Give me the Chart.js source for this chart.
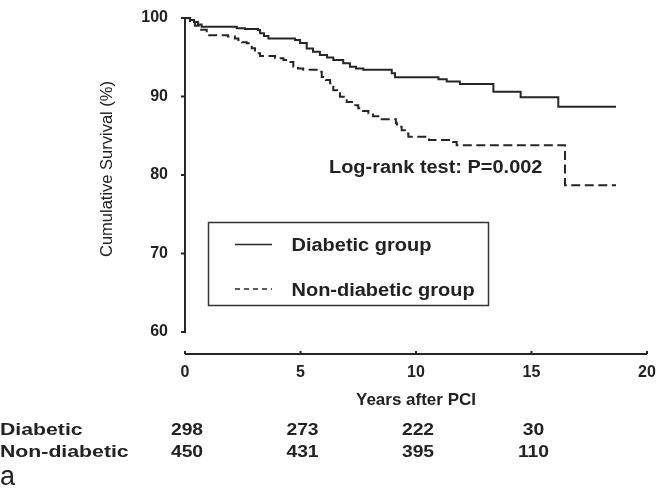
<!DOCTYPE html>
<html><head><meta charset="utf-8">
<script src="https://cdn.jsdelivr.net/npm/chart.js@4.4.1/dist/chart.umd.min.js"></script>
<style>html,body{margin:0;padding:0;background:#fff;}#wrap{width:660px;height:488px;}</style>
</head><body><div id="wrap"><canvas id="c" width="660" height="488"></canvas></div>
<script>
// ---- data ----
const seriesNames = ['Diabetic group', 'Non-diabetic group'];
const diabeticYears = [0, 0.22, 0.39, 0.56, 0.72, 2.24, 2.6, 3.16, 3.25, 3.42, 3.61, 4.76, 4.98, 5.27, 5.54, 5.84, 6.15, 6.42, 6.85, 7.14, 7.4, 7.72, 8.95, 9.09, 10.97, 11.33, 11.9, 13.35, 14.53, 16.16, 18.66];
const diabeticSurvival = [100, 99.75, 99.5, 99.17, 98.9, 98.7, 98.6, 98.47, 98.05, 97.7, 97.4, 97.2, 96.8, 96.1, 95.7, 95.3, 94.97, 94.65, 94.23, 93.8, 93.57, 93.4, 92.96, 92.45, 92.2, 91.9, 91.6, 90.6, 89.9, 88.7, 88.7];
const nonDiabeticYears = [0, 0.22, 0.43, 0.65, 0.94, 1.86, 2.16, 2.31, 2.47, 2.67, 2.89, 3.03, 3.25, 3.9, 4.26, 4.47, 4.69, 4.89, 5.12, 5.7, 5.92, 6.1, 6.28, 6.42, 6.58, 6.71, 7.0, 7.23, 7.5, 7.7, 7.94, 8.14, 8.37, 9.13, 9.18, 9.38, 9.52, 9.67, 10.56, 11.6, 11.76, 16.45, 18.66];
const nonDiabeticSurvival = [100, 99.5, 99.0, 98.5, 97.8, 97.64, 97.4, 97.2, 96.9, 96.78, 96.14, 95.5, 95.16, 94.87, 94.65, 94.4, 93.8, 93.57, 93.4, 93.16, 92.5, 92.1, 91.7, 90.8, 90.4, 89.97, 89.3, 88.9, 88.5, 88.15, 87.86, 87.5, 87.1, 86.6, 86.15, 85.7, 85.3, 84.88, 84.46, 84.2, 83.8, 78.7, 78.7];
const xTickValues = [0, 5, 10, 15, 20];
const yTickValues = [60, 70, 80, 90, 100];
const atRiskYears = [0, 5, 10, 15];
const atRiskRowLabels = ['Diabetic', 'Non-diabetic'];
const atRiskDiabetic = [298, 273, 222, 30];
const atRiskNonDiabetic = [450, 431, 395, 110];
const yAxisTitle = 'Cumulative Survival (%)';
const xAxisTitle = 'Years after PCI';
const testLabel = 'Log-rank test: P=0.002';
const panelLabel = 'a';

// ---- styling ----
const FONT = '"Liberation Sans", Arial, Helvetica, sans-serif';
const INK = '#222';
const LINE = '#262626';

function stretchText(ctx, s, x, y, font, sx, align) {
  ctx.save();
  ctx.font = font;
  ctx.fillStyle = INK;
  ctx.textAlign = align || 'left';
  ctx.textBaseline = 'alphabetic';
  ctx.translate(x, y);
  ctx.scale(sx, 1);
  ctx.fillText(s, 0, 0);
  ctx.restore();
}

function zeroPad(s) { s.paddingTop = 0; s.paddingBottom = 0; s.paddingLeft = 0; s.paddingRight = 0; }

const decor = {
  id: 'decor',
  beforeDraw(chart) {
    const ctx = chart.ctx;
    ctx.save(); ctx.fillStyle = '#fff'; ctx.fillRect(0, 0, chart.width, chart.height); ctx.restore();
  },
  afterDraw(chart) {
    const ctx = chart.ctx;
    const xs = chart.scales.x, ys = chart.scales.y;
    ctx.save();
    ctx.strokeStyle = LINE; ctx.lineWidth = 2; ctx.lineCap = 'butt';
    const x0 = xs.getPixelForValue(xTickValues[0]);
    const yTop = ys.getPixelForValue(yTickValues[yTickValues.length - 1]);
    const yBot = ys.getPixelForValue(yTickValues[0]);
    // y axis line + ticks
    ctx.beginPath(); ctx.moveTo(x0, yTop - 1); ctx.lineTo(x0, yBot + 1); ctx.stroke();
    yTickValues.forEach(v => {
      const py = ys.getPixelForValue(v);
      ctx.beginPath(); ctx.moveTo(x0 - 4, py); ctx.lineTo(x0, py); ctx.stroke();
    });
    // x axis line + ticks (detached below)
    const axY = ys.getPixelForValue(ys.min);
    ctx.beginPath(); ctx.moveTo(x0, axY); ctx.lineTo(xs.getPixelForValue(xTickValues[xTickValues.length - 1]), axY); ctx.stroke();
    xTickValues.forEach(v => {
      const px = xs.getPixelForValue(v);
      ctx.beginPath(); ctx.moveTo(px, axY); ctx.lineTo(px, axY - 3); ctx.stroke();
    });
    ctx.restore();

    // y axis title
    ctx.save();
    ctx.fillStyle = INK;
    ctx.font = '16.5px ' + FONT;
    ctx.translate(107.5, 169);
    ctx.rotate(-Math.PI / 2);
    ctx.textAlign = 'center'; ctx.textBaseline = 'middle';
    ctx.fillText(yAxisTitle, 0, 0);
    ctx.restore();

    // log-rank annotation
    stretchText(ctx, testLabel, 329, 172.5, 'bold 17.5px ' + FONT, 1.14, 'left');

    // legend box
    ctx.save();
    ctx.strokeStyle = '#333'; ctx.lineWidth = 1.5;
    ctx.strokeRect(208.5, 222.5, 280, 83);
    const ds = chart.data.datasets;
    const rows = [244.5, 289];
    ds.forEach((d, i) => {
      ctx.save();
      ctx.strokeStyle = d.borderColor; ctx.lineWidth = 1.5;
      ctx.setLineDash(d.borderDash ? [5, 4] : []);
      ctx.beginPath(); ctx.moveTo(235, rows[i]); ctx.lineTo(272, rows[i]); ctx.stroke();
      ctx.restore();
      stretchText(ctx, d.label, 291.5, rows[i] + 6.5, 'bold 18px ' + FONT, 1.11, 'left');
    });
    ctx.restore();

    // numbers at risk table
    const rowY = [435, 457];
    const rowData = [atRiskDiabetic, atRiskNonDiabetic];
    atRiskRowLabels.forEach((lab, r) => {
      stretchText(ctx, lab, 0, rowY[r], 'bold 17px ' + FONT, 1.25, 'left');
      atRiskYears.forEach((t, k) => {
        stretchText(ctx, String(rowData[r][k]), xs.getPixelForValue(t) + 2, rowY[r], 'bold 16.5px ' + FONT, 1.17, 'center');
      });
    });
    // panel label
    stretchText(ctx, panelLabel, 0, 485, '27px ' + FONT, 1.0, 'left');
  }
};

const mk = (ts, ss) => ts.map((t, i) => ({ x: t, y: ss[i] }));

new Chart(document.getElementById('c'), {
  type: 'line',
  data: {
    datasets: [
      { label: seriesNames[0], data: mk(diabeticYears, diabeticSurvival), borderColor: LINE, borderWidth: 2,
        stepped: 'before', pointRadius: 0, fill: false, clip: 6 },
      { label: seriesNames[1], data: mk(nonDiabeticYears, nonDiabeticSurvival), borderColor: LINE, borderWidth: 2,
        borderDash: [9, 4.5], stepped: 'before', pointRadius: 0, fill: false, clip: 6 }
    ]
  },
  options: {
    responsive: false, animation: false, devicePixelRatio: 1,
    layout: { padding: { left: 0, top: 18, right: 13, bottom: 0 } },
    plugins: { legend: { display: false }, tooltip: { enabled: false } },
    scales: {
      x: {
        type: 'linear', min: 0, max: 20, position: 'bottom',
        afterBuildTicks: s => { s.ticks = xTickValues.map(v => ({ value: v })); },
        afterFit: s => { s.height = 134; zeroPad(s); },
        grid: { display: false, drawTicks: false }, border: { display: false },
        ticks: { font: { family: FONT, size: 16, weight: 'bold' }, color: INK, padding: 9, maxRotation: 0, autoSkip: false },
        title: { display: true, text: xAxisTitle, font: { family: FONT, size: 17, weight: 'bold' }, color: INK, padding: { top: 0, bottom: 77 } }
      },
      y: {
        type: 'linear', min: 57.2, max: 100,
        afterBuildTicks: s => { s.ticks = yTickValues.map(v => ({ value: v })); },
        afterFit: s => { s.width = 185; zeroPad(s); },
        grid: { display: false, drawTicks: false }, border: { display: false },
        ticks: { font: { family: FONT, size: 16, weight: 'bold' }, color: INK, padding: 17 }
      }
    }
  },
  plugins: [decor]
});
</script></body></html>
